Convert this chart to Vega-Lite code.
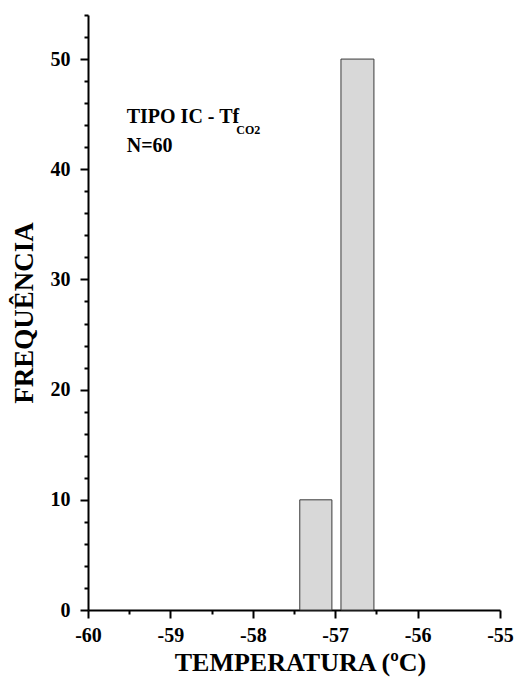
{
  "$schema": "https://vega.github.io/schema/vega-lite/v6.json",
  "width": 412,
  "height": 595,
  "autosize": "none",
  "padding": {"left": 88, "top": 15, "right": 21, "bottom": 73},
  "background": "white",
  "config": {
    "view": {"stroke": null},
    "font": "Liberation Serif, serif",
    "text": {"font": "Liberation Serif, serif"},
    "axis": {"labelFont": "Liberation Serif, serif", "titleFont": "Liberation Serif, serif"}
  },
  "datasets": {
    "bars": [
      {"t0": -57.43, "t1": -57.04, "freq": 10},
      {"t0": -56.93, "t1": -56.53, "freq": 50}
    ],
    "notes": [
      {"tx": -59.53, "ty": 44.7, "label": "TIPO IC - Tf"},
      {"tx": -59.53, "ty": 42.1, "label": "N=60"}
    ],
    "subs": [
      {"tx": -58.2, "ty": 43.6, "label": "CO2"}
    ]
  },
  "layer": [
    {
      "data": {"name": "bars"},
      "mark": {"type": "bar", "fill": "#d8d8d8", "stroke": "#3a3a3a", "strokeWidth": 1},
      "encoding": {
        "x": {
          "field": "t0", "type": "quantitative",
          "scale": {"domain": [-60, -55], "nice": false, "zero": false},
          "axis": {
            "title": "TEMPERATURA (ºC)",
            "values": [-60, -59, -58, -57, -56, -55],
            "labelExpr": "'' + datum.value",
            "grid": false,
            "domainColor": "black", "domainWidth": 2,
            "tickColor": "black", "tickWidth": 2, "tickSize": 8,
            "labelFont": "Liberation Serif, serif", "labelFontWeight": "bold", "labelFontSize": 20, "labelColor": "black",
            "labelPadding": 7, "labelFlush": false,
            "titleFont": "Liberation Serif, serif", "titleFontWeight": "bold", "titleFontSize": 26, "titleColor": "black",
            "titlePadding": 4, "titleX": 212
          }
        },
        "x2": {"field": "t1"},
        "y": {
          "field": "freq", "type": "quantitative",
          "scale": {"domain": [0, 54], "nice": false},
          "axis": {
            "title": "FREQUÊNCIA",
            "values": [0, 10, 20, 30, 40, 50],
            "labelExpr": "'' + datum.value",
            "grid": false,
            "domainColor": "black", "domainWidth": 2,
            "tickColor": "black", "tickWidth": 2, "tickSize": 8,
            "labelFont": "Liberation Serif, serif", "labelFontWeight": "bold", "labelFontSize": 20, "labelColor": "black",
            "labelPadding": 10, "labelFlush": false,
            "titleFont": "Liberation Serif, serif", "titleFontWeight": "bold", "titleFontSize": 27, "titleColor": "black",
            "titlePadding": 12
          }
        },
        "y2": {"datum": 0}
      }
    },
    {
      "data": {"name": "notes"},
      "mark": {"type": "text", "align": "left", "baseline": "middle", "font": "Liberation Serif, serif", "fontWeight": "bold", "fontSize": 20, "color": "black"},
      "encoding": {
        "x": {"field": "tx", "type": "quantitative", "axis": {"values": [-59.5, -58.5, -57.5, -56.5], "labels": false, "domain": false, "title": null, "grid": false, "tickColor": "black", "tickWidth": 2, "tickSize": 4, "orient": "bottom"}},
        "y": {"field": "ty", "type": "quantitative", "axis": {"values": [2, 4, 6, 8, 12, 14, 16, 18, 22, 24, 26, 28, 32, 34, 36, 38, 42, 44, 46, 48, 52, 54], "labels": false, "domain": false, "title": null, "grid": false, "tickColor": "black", "tickWidth": 2, "tickSize": 4, "orient": "left"}},
        "text": {"field": "label"}
      }
    },
    {
      "data": {"name": "subs"},
      "mark": {"type": "text", "align": "left", "baseline": "middle", "font": "Liberation Serif, serif", "fontWeight": "bold", "fontSize": 12, "color": "black"},
      "encoding": {
        "x": {"field": "tx", "type": "quantitative", "axis": null},
        "y": {"field": "ty", "type": "quantitative", "axis": null},
        "text": {"field": "label"}
      }
    }
  ],
  "resolve": {"axis": {"x": "independent", "y": "independent"}}
}
